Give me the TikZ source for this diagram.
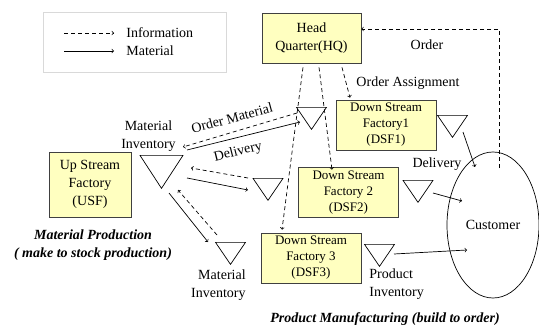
\documentclass[tikz,border=0pt]{standalone}
\usepackage{fontspec}
\setmainfont{Liberation Serif}
\usetikzlibrary{shapes.geometric,positioning}

\definecolor{boxfill}{RGB}{255,255,192}

\begin{document}
\begin{tikzpicture}[x=1pt, y=-1pt, line width=0.7pt, font=\fontsize{14}{18}\selectfont]
  \tikzset{
    fac/.style={draw=black!75, fill=boxfill, rectangle, align=center, inner sep=0pt},
    inv/.style={draw, isosceles triangle, isosceles triangle stretches, shape border rotate=270,
                inner sep=0pt, minimum width=30pt, minimum height=22pt, anchor=north},
    info/.style={->, dash pattern=on 4pt off 3pt},
    mat/.style={->},
    lbl/.style={align=center, inner sep=0pt}
  }
  \useasboundingbox (0,0) rectangle (539,329);

  % legend
  \draw [black!15, line width=0.5pt] (43,12) rectangle (226,72);
  \coordinate (li0) at (64,33);
  \coordinate (li1) at (114,33);
  \coordinate (lm0) at (64,51);
  \coordinate (lm1) at (114,51);
  \draw [info] (li0) -- (li1);
  \draw [mat] (lm0) -- (lm1);
  \node [lbl, anchor=west] (tInfo) at (126,33) {Information};
  \node [lbl, anchor=west] (tMat) at (126,51) {Material};

  % factories
  \node [fac, minimum width=99pt, minimum height=50pt] (hq) at (311.5,38.5) {Head\\Quarter(HQ)};
  \node [fac, minimum width=82pt, minimum height=65pt] (usf) at (90,184.5) {Up Stream\\Factory\\(USF)};
  \foreach \n/\x/\y/\t/\s in {dsf1/386/125/Factory1/DSF1, dsf2/348.5/192.5/Factory 2/DSF2,
                              dsf3/311/258/Factory 3/DSF3} {
    \node [fac, minimum width=100pt, minimum height=50pt, font=\fontsize{13}{16}\selectfont]
          (\n) at (\x,\y) {Down Stream\\\t\\(\s)};
  }
  \node [draw, ellipse, minimum width=92pt, minimum height=146pt, inner sep=0pt] (cust) at (493,225) {Customer};

  % inventories
  \foreach \n/\x/\y in {mA/311.5/107, mB/268/178, mC/230.5/242, pA/452.5/115, pB/418/180, pC/379.5/244} {
    \node [inv] (\n) at (\x,\y) {};
  }
  \node [inv, minimum width=43pt, minimum height=33pt] (mU) at (161.5,155) {};

  % material flow
  \draw [info] ([shift={(-14.5,6)}]mA.north) -- ([shift={(21.5,-8)}]mU.north);
  \draw [mat] ([shift={(25.5,-5)}]mU.north) -- ([shift={(-11.5,15)}]mA.north);
  \draw [info] ([shift={(-20,0)}]mB.north) -- ([shift={(29.5,13)}]mU.north);
  \draw [mat] ([shift={(25.5,23)}]mU.north) -- ([shift={(-20,12)}]mB.north);
  \draw [mat] ([shift={(7.5,38)}]mU.north) -- ([shift={(-22.5,0)}]mC.north);
  \draw [info] ([shift={(-13.5,-7)}]mC.north) -- ([shift={(16.5,35)}]mU.north);

  % orders from HQ
  \draw [info] ([shift={(-8.5,3.5)}]hq.south) -- ([shift={(-29,-3)}]dsf3.north);
  \draw [info] ([shift={(7.5,3.5)}]hq.south) -- ([shift={(-16.5,2.5)}]dsf2.north);
  \draw [info] ([shift={(30.5,3.5)}]hq.south) -- ([shift={(-36,-2)}]dsf1.north);
  \draw [info] ([shift={(6,-57)}]cust.center) |- ([shift={(0,-9.5)}]hq.east);

  % products to customer
  \draw [mat] ([shift={(10.5,17)}]pA.north) -- ([shift={(-18,-58)}]cust.center);
  \draw [mat] ([shift={(15,13)}]pB.north) -- ([shift={(-31,-24)}]cust.center);
  \draw [mat] ([shift={(14.5,10)}]pC.north) -- ([shift={(-26,25)}]cust.center);

  % labels
  \node [lbl, anchor=south] (tMI1) at ([shift={(-13,-3)}]mU.north) {Material\\Inventory};
  \node [lbl, anchor=north east, align=right] (tMI2) at (246,269) {Material\\Inventory};
  \node [lbl, anchor=north west, align=left] (tPI) at (369,268) {Product\\Inventory};
  \node [lbl, rotate=15] (tOM) at (232,118) {Order Material};
  \node [lbl, rotate=14] (tDel1) at (238,152) {Delivery};
  \node [lbl] (tDel2) at (437,164) {Delivery};
  \node [lbl] (tOA) at (408,83) {Order Assignment};
  \node [lbl] (tOrd) at (427,45) {Order};
  \node [lbl, font=\fontsize{14}{18}\selectfont\bfseries\itshape] (tMP) at (93,245)
        {Material Production\\( make to stock production)};
  \node [lbl, font=\fontsize{14}{18}\selectfont\bfseries\itshape] (tPM) at (385,319)
        {Product Manufacturing (build to order)};
\end{tikzpicture}
\end{document}
